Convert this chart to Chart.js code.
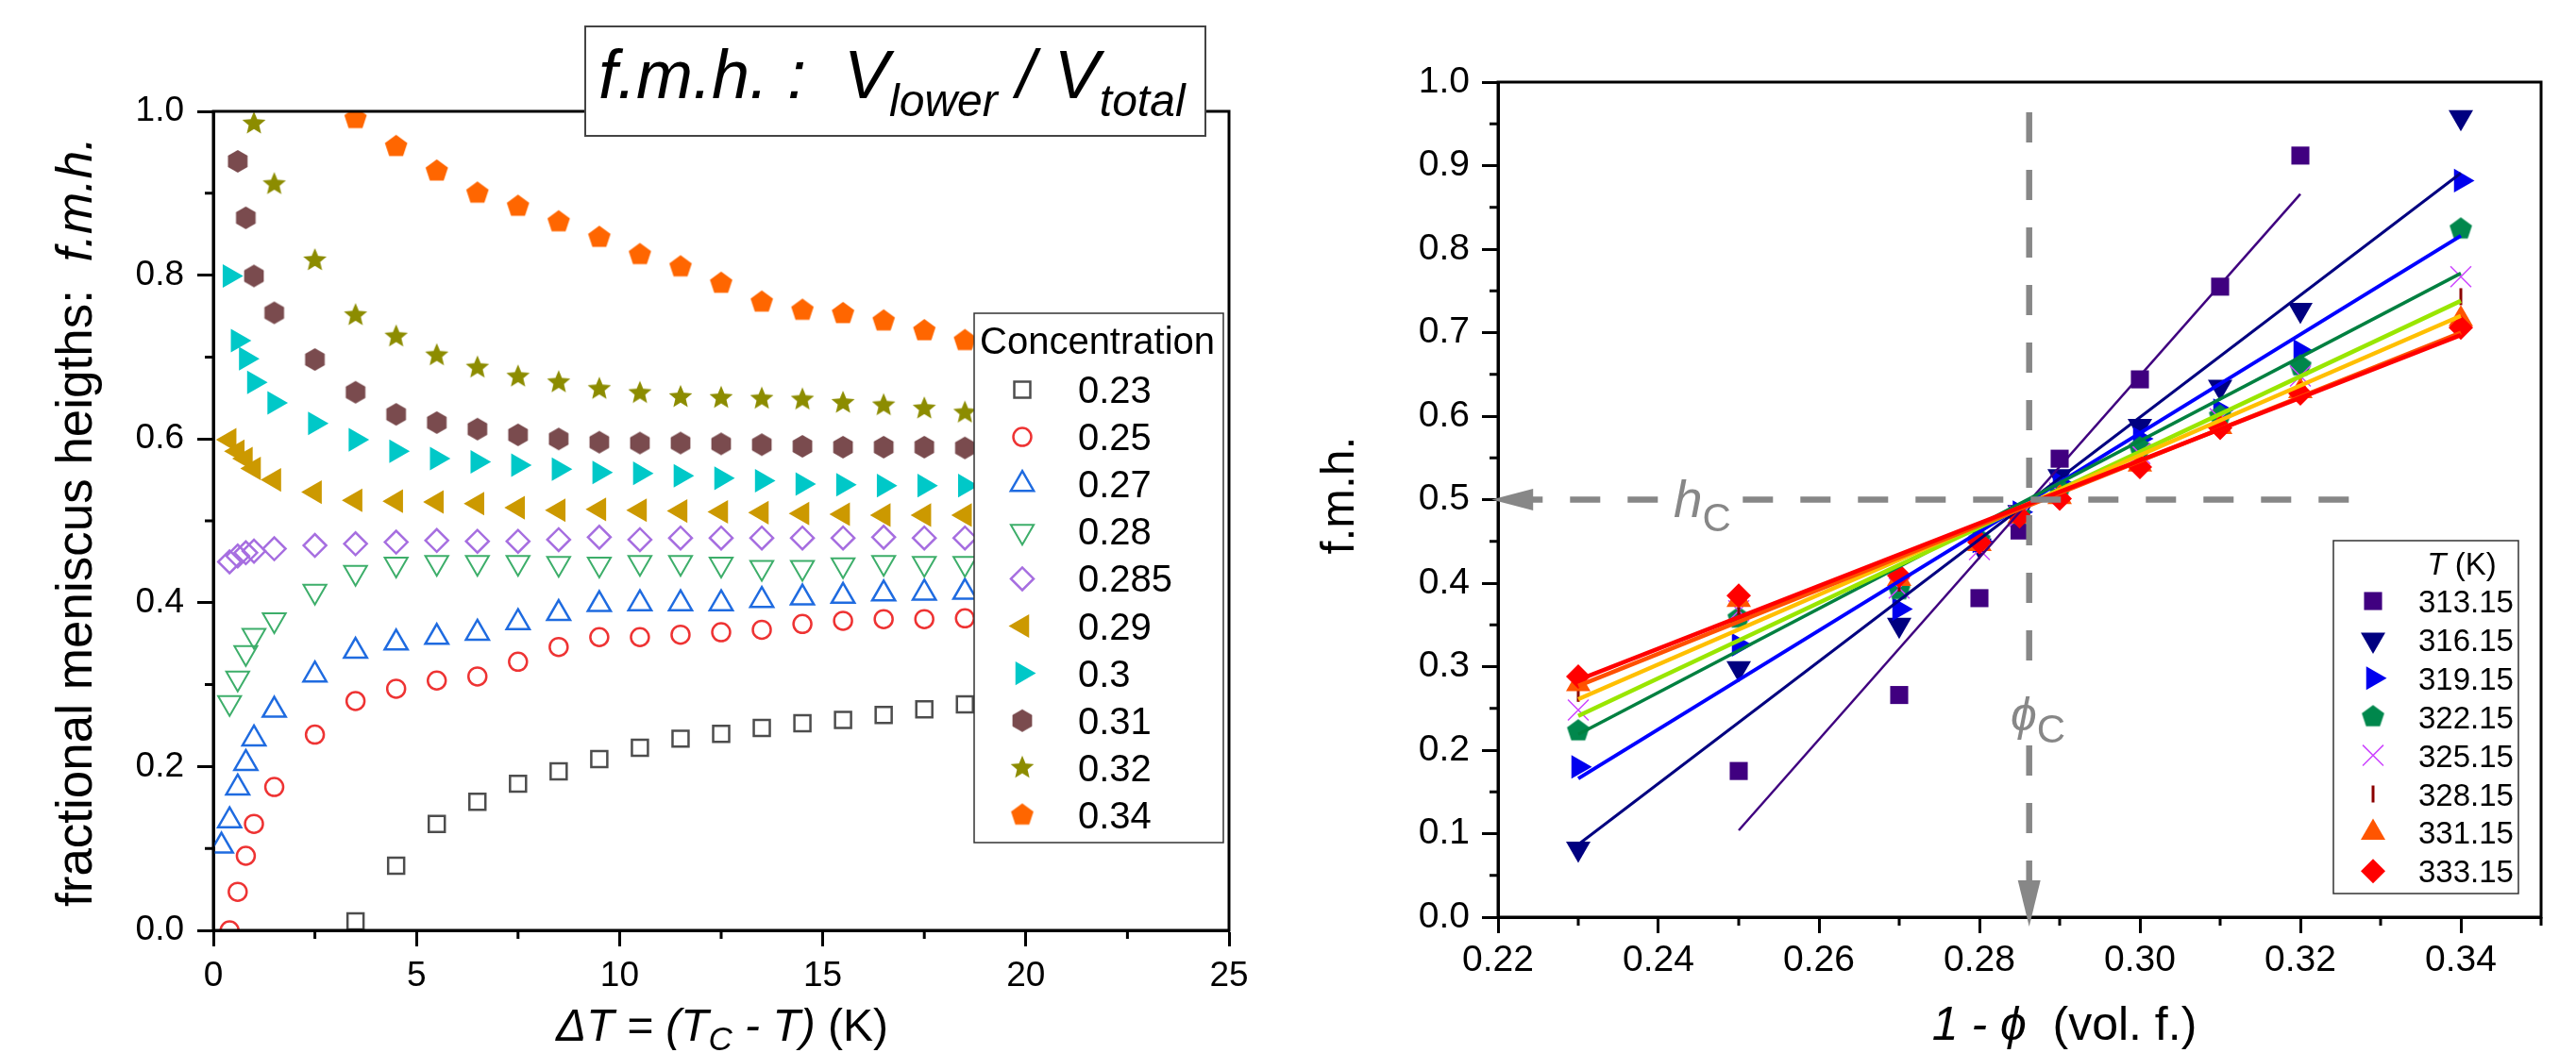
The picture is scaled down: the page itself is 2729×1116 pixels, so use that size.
<!DOCTYPE html>
<html>
<head>
<meta charset="utf-8">
<script src="https://cdn.jsdelivr.net/npm/chart.js"></script>
<style>
  html, body { margin: 0; padding: 0; background: #fff; }
  #wrap { position: relative; width: 2729px; height: 1116px; }
  canvas { position: absolute; top: 0; }
</style>
</head>
<body>
<div id="wrap">
  <canvas id="left" width="1360" height="1116" style="left:0"></canvas>
  <canvas id="right" width="1369" height="1116" style="left:1360px"></canvas>
</div>
<script>
// ---------- left panel data: f.m.h. vs dT for each concentration ----------
const concLabels = ['0.23', '0.25', '0.27', '0.28', '0.285', '0.29', '0.3', '0.31', '0.32', '0.34'];

const dtA = [3.5, 4.5, 5.5, 6.5, 7.5, 8.5, 9.5, 10.5, 11.5, 12.5, 13.5, 14.5, 15.5, 16.5, 17.5, 18.5];
const dtB = [0.4, 0.6, 0.8, 1.0, 1.5, 2.5, 3.5, 4.5, 5.5, 6.5, 7.5, 8.5, 9.5, 10.5, 11.5, 12.5, 13.5, 14.5, 15.5, 16.5, 17.5, 18.5];
const dtC = [0.2, 0.4, 0.6, 0.8, 1.0, 1.5, 2.5, 3.5, 4.5, 5.5, 6.5, 7.5, 8.5, 9.5, 10.5, 11.5, 12.5, 13.5, 14.5, 15.5, 16.5, 17.5, 18.5];
const dtD = [0.6, 0.8, 1.0, 1.5, 2.5, 3.5, 4.5, 5.5, 6.5, 7.5, 8.5, 9.5, 10.5, 11.5, 12.5, 13.5, 14.5, 15.5, 16.5, 17.5, 18.5];
const dtE = [1.0, 1.5, 2.5, 3.5, 4.5, 5.5, 6.5, 7.5, 8.5, 9.5, 10.5, 11.5, 12.5, 13.5, 14.5, 15.5, 16.5, 17.5, 18.5];

const fmh023 = [0.011, 0.079, 0.130, 0.157, 0.179, 0.194, 0.209, 0.223, 0.234, 0.240, 0.247, 0.253, 0.257, 0.263, 0.270, 0.276];
const fmh025 = [0.0, 0.047, 0.091, 0.130, 0.175, 0.239, 0.280, 0.295, 0.305, 0.310, 0.328, 0.346, 0.358, 0.358, 0.361, 0.364, 0.367, 0.374, 0.378, 0.380, 0.380, 0.381];
const fmh027 = [0.103, 0.134, 0.174, 0.204, 0.234, 0.269, 0.312, 0.341, 0.351, 0.358, 0.363, 0.376, 0.387, 0.398, 0.399, 0.399, 0.399, 0.403, 0.406, 0.408, 0.411, 0.412, 0.413];
const fmh028 = [0.278, 0.308, 0.339, 0.360, 0.379, 0.414, 0.437, 0.447, 0.449, 0.449, 0.449, 0.448, 0.447, 0.449, 0.449, 0.447, 0.443, 0.443, 0.446, 0.449, 0.448, 0.448];
const fmh0285 = [0.450, 0.457, 0.461, 0.463, 0.466, 0.470, 0.472, 0.474, 0.476, 0.475, 0.475, 0.477, 0.480, 0.477, 0.479, 0.479, 0.479, 0.479, 0.479, 0.480, 0.479, 0.479];
const fmh029 = [0.599, 0.585, 0.576, 0.564, 0.550, 0.535, 0.525, 0.524, 0.523, 0.521, 0.516, 0.513, 0.514, 0.513, 0.512, 0.511, 0.510, 0.509, 0.508, 0.507, 0.507, 0.507];
const fmh030 = [0.799, 0.720, 0.698, 0.669, 0.644, 0.619, 0.599, 0.585, 0.576, 0.572, 0.568, 0.563, 0.559, 0.558, 0.555, 0.552, 0.549, 0.545, 0.544, 0.543, 0.543, 0.543];
const fmh031 = [0.939, 0.870, 0.799, 0.754, 0.697, 0.657, 0.630, 0.620, 0.612, 0.605, 0.600, 0.596, 0.595, 0.595, 0.594, 0.593, 0.591, 0.590, 0.590, 0.590, 0.589];
const fmh032 = [0.985, 0.911, 0.818, 0.751, 0.725, 0.702, 0.687, 0.676, 0.669, 0.661, 0.656, 0.651, 0.650, 0.649, 0.648, 0.644, 0.641, 0.637, 0.632];
const fmh034 = [0.991, 0.957, 0.927, 0.900, 0.884, 0.865, 0.846, 0.825, 0.810, 0.790, 0.767, 0.757, 0.753, 0.744, 0.732, 0.720];

const leftXTicks = [0, 5, 10, 15, 20, 25];
const leftXMinor = [2.5, 7.5, 12.5, 17.5, 22.5];
const leftYTicks = [0, 0.2, 0.4, 0.6, 0.8, 1.0];
const leftYMinor = [0.1, 0.3, 0.5, 0.7, 0.9];

// ---------- right panel data: f.m.h. vs 1 - phi for each temperature ----------
const tempLabels = ['313.15', '316.15', '319.15', '322.15', '325.15', '328.15', '331.15', '333.15'];
const phiX = [0.23, 0.25, 0.27, 0.28, 0.285, 0.29, 0.30, 0.31, 0.32, 0.34];

const fmh313 = [null, 0.175, 0.266, 0.382, 0.463, 0.549, 0.644, 0.755, 0.912, null];
const fmh316 = [0.082, 0.298, 0.350, 0.445, 0.485, 0.528, 0.588, 0.635, 0.727, 0.958];
const fmh319 = [0.180, 0.326, 0.369, 0.450, 0.485, 0.520, 0.573, 0.607, 0.678, 0.882];
const fmh322 = [0.223, 0.358, 0.392, 0.452, 0.482, 0.512, 0.562, 0.600, 0.660, 0.824];
const fmh325 = [0.248, 0.367, 0.394, 0.440, 0.480, 0.508, 0.555, 0.597, 0.648, 0.767];
const fmh328 = [0.268, 0.372, 0.400, 0.445, 0.480, 0.505, 0.548, 0.590, 0.635, 0.743];
const fmh331 = [0.279, 0.380, 0.405, 0.447, 0.480, 0.503, 0.542, 0.587, 0.630, 0.716];
const fmh333 = [0.288, 0.385, 0.409, 0.449, 0.480, 0.501, 0.539, 0.586, 0.627, 0.706];

// linear fit lines (start / end) for each temperature
const fitX0 = [0.25, 0.23, 0.23, 0.23, 0.23, 0.23, 0.23, 0.23];
const fitY0 = [0.104, 0.087, 0.166, 0.219, 0.241, 0.261, 0.277, 0.284];
const fitX1 = [0.32, 0.34, 0.34, 0.34, 0.34, 0.34, 0.34, 0.34];
const fitY1 = [0.866, 0.891, 0.816, 0.771, 0.738, 0.720, 0.700, 0.697];

const hC = 0.5;
const phiC = 0.2862;

const rightXTicks = [0.22, 0.24, 0.26, 0.28, 0.30, 0.32, 0.34];
const rightXMinor = [0.23, 0.25, 0.27, 0.29, 0.31, 0.33, 0.35];
const rightYTicks = [0, 0.1, 0.2, 0.3, 0.4, 0.5, 0.6, 0.7, 0.8, 0.9, 1.0];
const rightYMinor = [0.05, 0.15, 0.25, 0.35, 0.45, 0.55, 0.65, 0.75, 0.85, 0.95];

// ---------- helpers ----------
const FONT = "'Liberation Sans', Arial, Helvetica, sans-serif";
const GRAY = '#878787';

function pts(xs, ys) {
  return xs.map((x, i) => ({ x: x, y: ys[i] })).filter(p => p.y !== null);
}

function makeShape(kind, R, fill) {
  const s = Math.ceil(R * 2 + 4);
  const c = document.createElement('canvas');
  c.width = s; c.height = s;
  const g = c.getContext('2d');
  g.translate(s / 2, s / 2);
  g.beginPath();
  let n = kind === 'pentagon' ? 5 : kind === 'hexagon' ? 6 : 10;
  for (let i = 0; i < n; i++) {
    const a = -Math.PI / 2 + i * 2 * Math.PI / n;
    const r = (kind === 'star' && i % 2) ? R * 0.45 : R;
    const px = Math.cos(a) * r, py = Math.sin(a) * r;
    if (i === 0) g.moveTo(px, py); else g.lineTo(px, py);
  }
  g.closePath();
  g.fillStyle = fill;
  g.fill();
  return c;
}

function drawRuns(ctx, runs, x, y, align) {
  let w = 0;
  runs.forEach(r => { ctx.font = r.font; w += ctx.measureText(r.t).width; });
  let cx = align === 'center' ? x - w / 2 : x;
  ctx.textAlign = 'left';
  ctx.textBaseline = 'alphabetic';
  runs.forEach(r => {
    ctx.font = r.font;
    ctx.fillText(r.t, cx, y + (r.dy || 0));
    cx += ctx.measureText(r.t).width;
  });
}

function symbol(ctx, ds, x, y) {
  ctx.save();
  ctx.fillStyle = ds.pointBackgroundColor;
  ctx.strokeStyle = ds.pointBorderColor;
  ctx.lineWidth = ds.pointBorderWidth;
  Chart.helpers.drawPoint(ctx, {
    pointStyle: ds.pointStyle, rotation: ds.pointRotation || 0,
    radius: ds.pointRadius, borderWidth: ds.pointBorderWidth
  }, x, y);
  ctx.restore();
}

function frameAndMinor(chart, xMinor, yMinor) {
  const { ctx, chartArea: a, scales: { x, y } } = chart;
  ctx.save();
  ctx.strokeStyle = '#000';
  ctx.lineWidth = 3;
  ctx.strokeRect(a.left, a.top, a.right - a.left, a.bottom - a.top);
  ctx.beginPath();
  xMinor.forEach(v => {
    const px = x.getPixelForValue(v);
    ctx.moveTo(px, a.bottom); ctx.lineTo(px, a.bottom + 9);
  });
  yMinor.forEach(v => {
    const py = y.getPixelForValue(v);
    ctx.moveTo(a.left, py); ctx.lineTo(a.left - 9, py);
  });
  ctx.stroke();
  ctx.restore();
}

function axis(min, max, ticks, fmt, size, pad, fit, isY) {
  return {
    type: 'linear', min: min, max: max,
    afterBuildTicks: s => { s.ticks = ticks.map(v => ({ value: v })); },
    afterFit: s => { if (isY) s.width = fit; else s.height = fit; },
    grid: { display: true, drawOnChartArea: false, drawTicks: true, tickLength: 17, tickWidth: 3, tickColor: '#000' },
    border: { display: true, color: '#000', width: 3 },
    ticks: { color: '#000', font: { family: FONT, size: size }, padding: pad, autoSkip: false, maxRotation: 0, callback: v => fmt(v) }
  };
}

function marker(label, xs, ys, style, radius, color, filled, bw, rot) {
  return {
    label: label, data: pts(xs, ys), showLine: false,
    pointStyle: style, pointRadius: radius, pointRotation: rot || 0,
    pointBackgroundColor: filled ? color : 'rgba(0,0,0,0)',
    pointBorderColor: color, pointBorderWidth: bw
  };
}

// ---------- left chart ----------
const leftSets = [
  marker('0.23', dtA, fmh023, 'rect', 12, '#4D4D4D', false, 2.5),
  marker('0.25', dtB, fmh025, 'circle', 9.5, '#EE3333', false, 2.5),
  marker('0.27', dtC, fmh027, 'triangle', 14, '#1F6BE0', false, 2.5),
  marker('0.28', dtB, fmh028, 'triangle', 14, '#3DAE6A', false, 2, 180),
  marker('0.285', dtB, fmh0285, 'rectRot', 12, '#A66EE0', false, 2.5),
  marker('0.29', dtB, fmh029, 'triangle', 14.5, '#CC9900', true, 0, 270),
  marker('0.3', dtB, fmh030, 'triangle', 14.5, '#00C8C8', true, 0, 90),
  marker('0.31', dtD, fmh031, makeShape('hexagon', 12, '#7A4B4E'), 12, '#7A4B4E', true, 0),
  marker('0.32', dtE, fmh032, makeShape('star', 13, '#8C8C00'), 13, '#8C8C00', true, 0),
  marker('0.34', dtA, fmh034, makeShape('pentagon', 12.5, '#FF6600'), 12.5, '#FF6600', true, 0)
];
leftSets.forEach((d, i) => { d.order = 100 - i; d.clip = 0; });

const leftDeco = {
  id: 'leftDeco',
  afterDatasetsDraw(chart) {
    frameAndMinor(chart, leftXMinor, leftYMinor);
  },
  afterDraw(chart) {
    const ctx = chart.ctx;
    ctx.save();
    // legend
    ctx.fillStyle = '#fff';
    ctx.fillRect(1032, 332, 264, 561);
    ctx.strokeStyle = '#333';
    ctx.lineWidth = 1.5;
    ctx.strokeRect(1032, 332, 264, 561);
    ctx.fillStyle = '#000';
    drawRuns(ctx, [{ t: 'Concentration', font: '40px ' + FONT }], 1038, 375, 'left');
    leftSets.forEach((ds, i) => {
      const cy = 413 + i * 50.1;
      symbol(ctx, ds, 1083, cy);
      ctx.fillStyle = '#000';
      drawRuns(ctx, [{ t: concLabels[i], font: '40px ' + FONT }], 1142, cy + 14, 'left');
    });
    // title box
    ctx.fillStyle = '#fff';
    ctx.fillRect(620, 28, 657, 116);
    ctx.strokeStyle = '#444';
    ctx.lineWidth = 2;
    ctx.strokeRect(620, 28, 657, 116);
    ctx.fillStyle = '#000';
    drawRuns(ctx, [
      { t: 'f.m.h. :  V', font: 'italic 72px ' + FONT },
      { t: 'lower', font: 'italic 48px ' + FONT, dy: 19 },
      { t: ' / V', font: 'italic 72px ' + FONT },
      { t: 'total', font: 'italic 48px ' + FONT, dy: 19 }
    ], 634, 104, 'left');
    // axis titles
    drawRuns(ctx, [
      { t: '\u0394T = (T', font: 'italic 48px ' + FONT },
      { t: 'C', font: 'italic 35px ' + FONT, dy: 10 },
      { t: ' - T) ', font: 'italic 48px ' + FONT },
      { t: '(K)', font: '48px ' + FONT }
    ], 765, 1103, 'center');
    ctx.translate(97, 553);
    ctx.rotate(-Math.PI / 2);
    drawRuns(ctx, [
      { t: 'fractional meniscus heigths:  ', font: '53px ' + FONT },
      { t: 'f.m.h.', font: 'italic 53px ' + FONT }
    ], 0, 0, 'center');
    ctx.restore();
  }
};

new Chart(document.getElementById('left'), {
  type: 'scatter',
  data: { datasets: leftSets },
  options: {
    responsive: false, animation: false, events: [],
    layout: { padding: { left: 0, top: 118, right: 58, bottom: 0 } },
    plugins: { legend: { display: false }, tooltip: { enabled: false } },
    scales: {
      x: axis(0, 25, leftXTicks, v => String(v), 37, 10, 130, false),
      y: axis(0, 1, leftYTicks, v => v.toFixed(1), 37, 14, 226, true)
    }
  },
  plugins: [leftDeco]
});

// ---------- right chart ----------
const rightSets = [
  marker('313.15', phiX, fmh313, 'rect', 13.5, '#400080', true, 0),
  marker('316.15', phiX, fmh316, 'triangle', 15, '#000080', true, 0, 180),
  marker('319.15', phiX, fmh319, 'triangle', 14.5, '#0000EE', true, 0, 90),
  marker('322.15', phiX, fmh322, makeShape('pentagon', 12.5, '#00874C'), 12.5, '#00874C', true, 0),
  marker('325.15', phiX, fmh325, 'crossRot', 15.5, '#CC44FF', false, 1.5),
  marker('328.15', phiX, fmh328, 'line', 9, '#8B0000', false, 3, 90),
  marker('331.15', phiX, fmh331, 'triangle', 15, '#FF5500', true, 0),
  marker('333.15', phiX, fmh333, 'rectRot', 13, '#FF0000', true, 0)
];
rightSets.forEach((d, i) => { d.order = 100 - i; });

const fitColors = ['#3F007F', '#000080', '#0000FF', '#008040', '#99E600', '#FFBF00', '#FF5000', '#FF0000'];
const fitWidths = [2.5, 3, 4, 3.5, 4.5, 4.5, 4.5, 4.5];
const fitSets = fitColors.map((c, i) => ({
  label: 'fit ' + tempLabels[i],
  data: [{ x: fitX0[i], y: fitY0[i] }, { x: fitX1[i], y: fitY1[i] }],
  showLine: true, pointRadius: 0, borderColor: c, borderWidth: fitWidths[i],
  order: 50 - i
}));

const rightDeco = {
  id: 'rightDeco',
  afterDatasetsDraw(chart) {
    const { ctx, scales: { x, y } } = chart;
    frameAndMinor(chart, rightXMinor, rightYMinor);
    ctx.save();
    const yh = y.getPixelForValue(hC);
    const xv = x.getPixelForValue(phiC);
    ctx.strokeStyle = GRAY;
    ctx.lineWidth = 6.5;
    ctx.setLineDash([32, 29]);
    ctx.beginPath();
    ctx.moveTo(x.getPixelForValue(0.2218), yh);
    ctx.lineTo(x.getPixelForValue(0.3264), yh);
    ctx.moveTo(xv, y.getPixelForValue(0.9638));
    ctx.lineTo(xv, y.getPixelForValue(0.034));
    ctx.stroke();
    ctx.setLineDash([]);
    // arrow heads
    ctx.fillStyle = GRAY;
    const tipX = x.getPixelForValue(0.2192);
    ctx.beginPath();
    ctx.moveTo(tipX, yh); ctx.lineTo(tipX + 44, yh - 11.5); ctx.lineTo(tipX + 44, yh + 11.5);
    ctx.closePath(); ctx.fill();
    const tipY = y.getPixelForValue(-0.0113);
    ctx.beginPath();
    ctx.moveTo(xv, tipY); ctx.lineTo(xv - 12, tipY - 49); ctx.lineTo(xv + 12, tipY - 49);
    ctx.closePath(); ctx.fill();
    // labels with white gaps
    ctx.fillStyle = '#fff';
    ctx.fillRect(398, yh - 8, 88, 16);
    ctx.fillRect(xv - 20, 700, 40, 89);
    ctx.fillStyle = GRAY;
    drawRuns(ctx, [
      { t: 'h', font: 'italic 55px ' + FONT },
      { t: 'C', font: '42px ' + FONT, dy: 15 }
    ], 413, 548, 'left');
    drawRuns(ctx, [
      { t: '\u03D5', font: 'italic 50px ' + FONT },
      { t: 'C', font: '42px ' + FONT, dy: 13 }
    ], 770, 774, 'left');
    ctx.restore();
  },
  afterDraw(chart) {
    const ctx = chart.ctx;
    ctx.save();
    // legend
    ctx.fillStyle = '#fff';
    ctx.fillRect(1112, 573, 196, 374);
    ctx.strokeStyle = '#333';
    ctx.lineWidth = 1.5;
    ctx.strokeRect(1112, 573, 196, 374);
    ctx.fillStyle = '#000';
    drawRuns(ctx, [
      { t: 'T', font: 'italic 33px ' + FONT },
      { t: ' (K)', font: '33px ' + FONT }
    ], 1248, 609, 'center');
    rightSets.forEach((ds, i) => {
      const cy = 637 + i * 40.9;
      symbol(ctx, ds, 1154, cy);
      ctx.fillStyle = '#000';
      drawRuns(ctx, [{ t: tempLabels[i], font: '33px ' + FONT }], 1202, cy + 12, 'left');
    });
    // axis titles
    drawRuns(ctx, [
      { t: '1 - \u03D5', font: 'italic 50px ' + FONT },
      { t: '  (vol. f.)', font: '50px ' + FONT }
    ], 827, 1102, 'center');
    ctx.translate(74, 525);
    ctx.rotate(-Math.PI / 2);
    drawRuns(ctx, [{ t: 'f.m.h.', font: '50px ' + FONT }], 0, 0, 'center');
    ctx.restore();
  }
};

new Chart(document.getElementById('right'), {
  type: 'scatter',
  data: { datasets: rightSets.concat(fitSets) },
  options: {
    responsive: false, animation: false, events: [],
    layout: { padding: { left: 0, top: 87, right: 37, bottom: 0 } },
    plugins: { legend: { display: false }, tooltip: { enabled: false } },
    scales: {
      x: axis(0.22, 0.35, rightXTicks, v => v.toFixed(2), 39, 6, 144, false),
      y: axis(0, 1, rightYTicks, v => v.toFixed(1), 39, 13, 227, true)
    }
  },
  plugins: [rightDeco]
});
</script>
</body>
</html>
